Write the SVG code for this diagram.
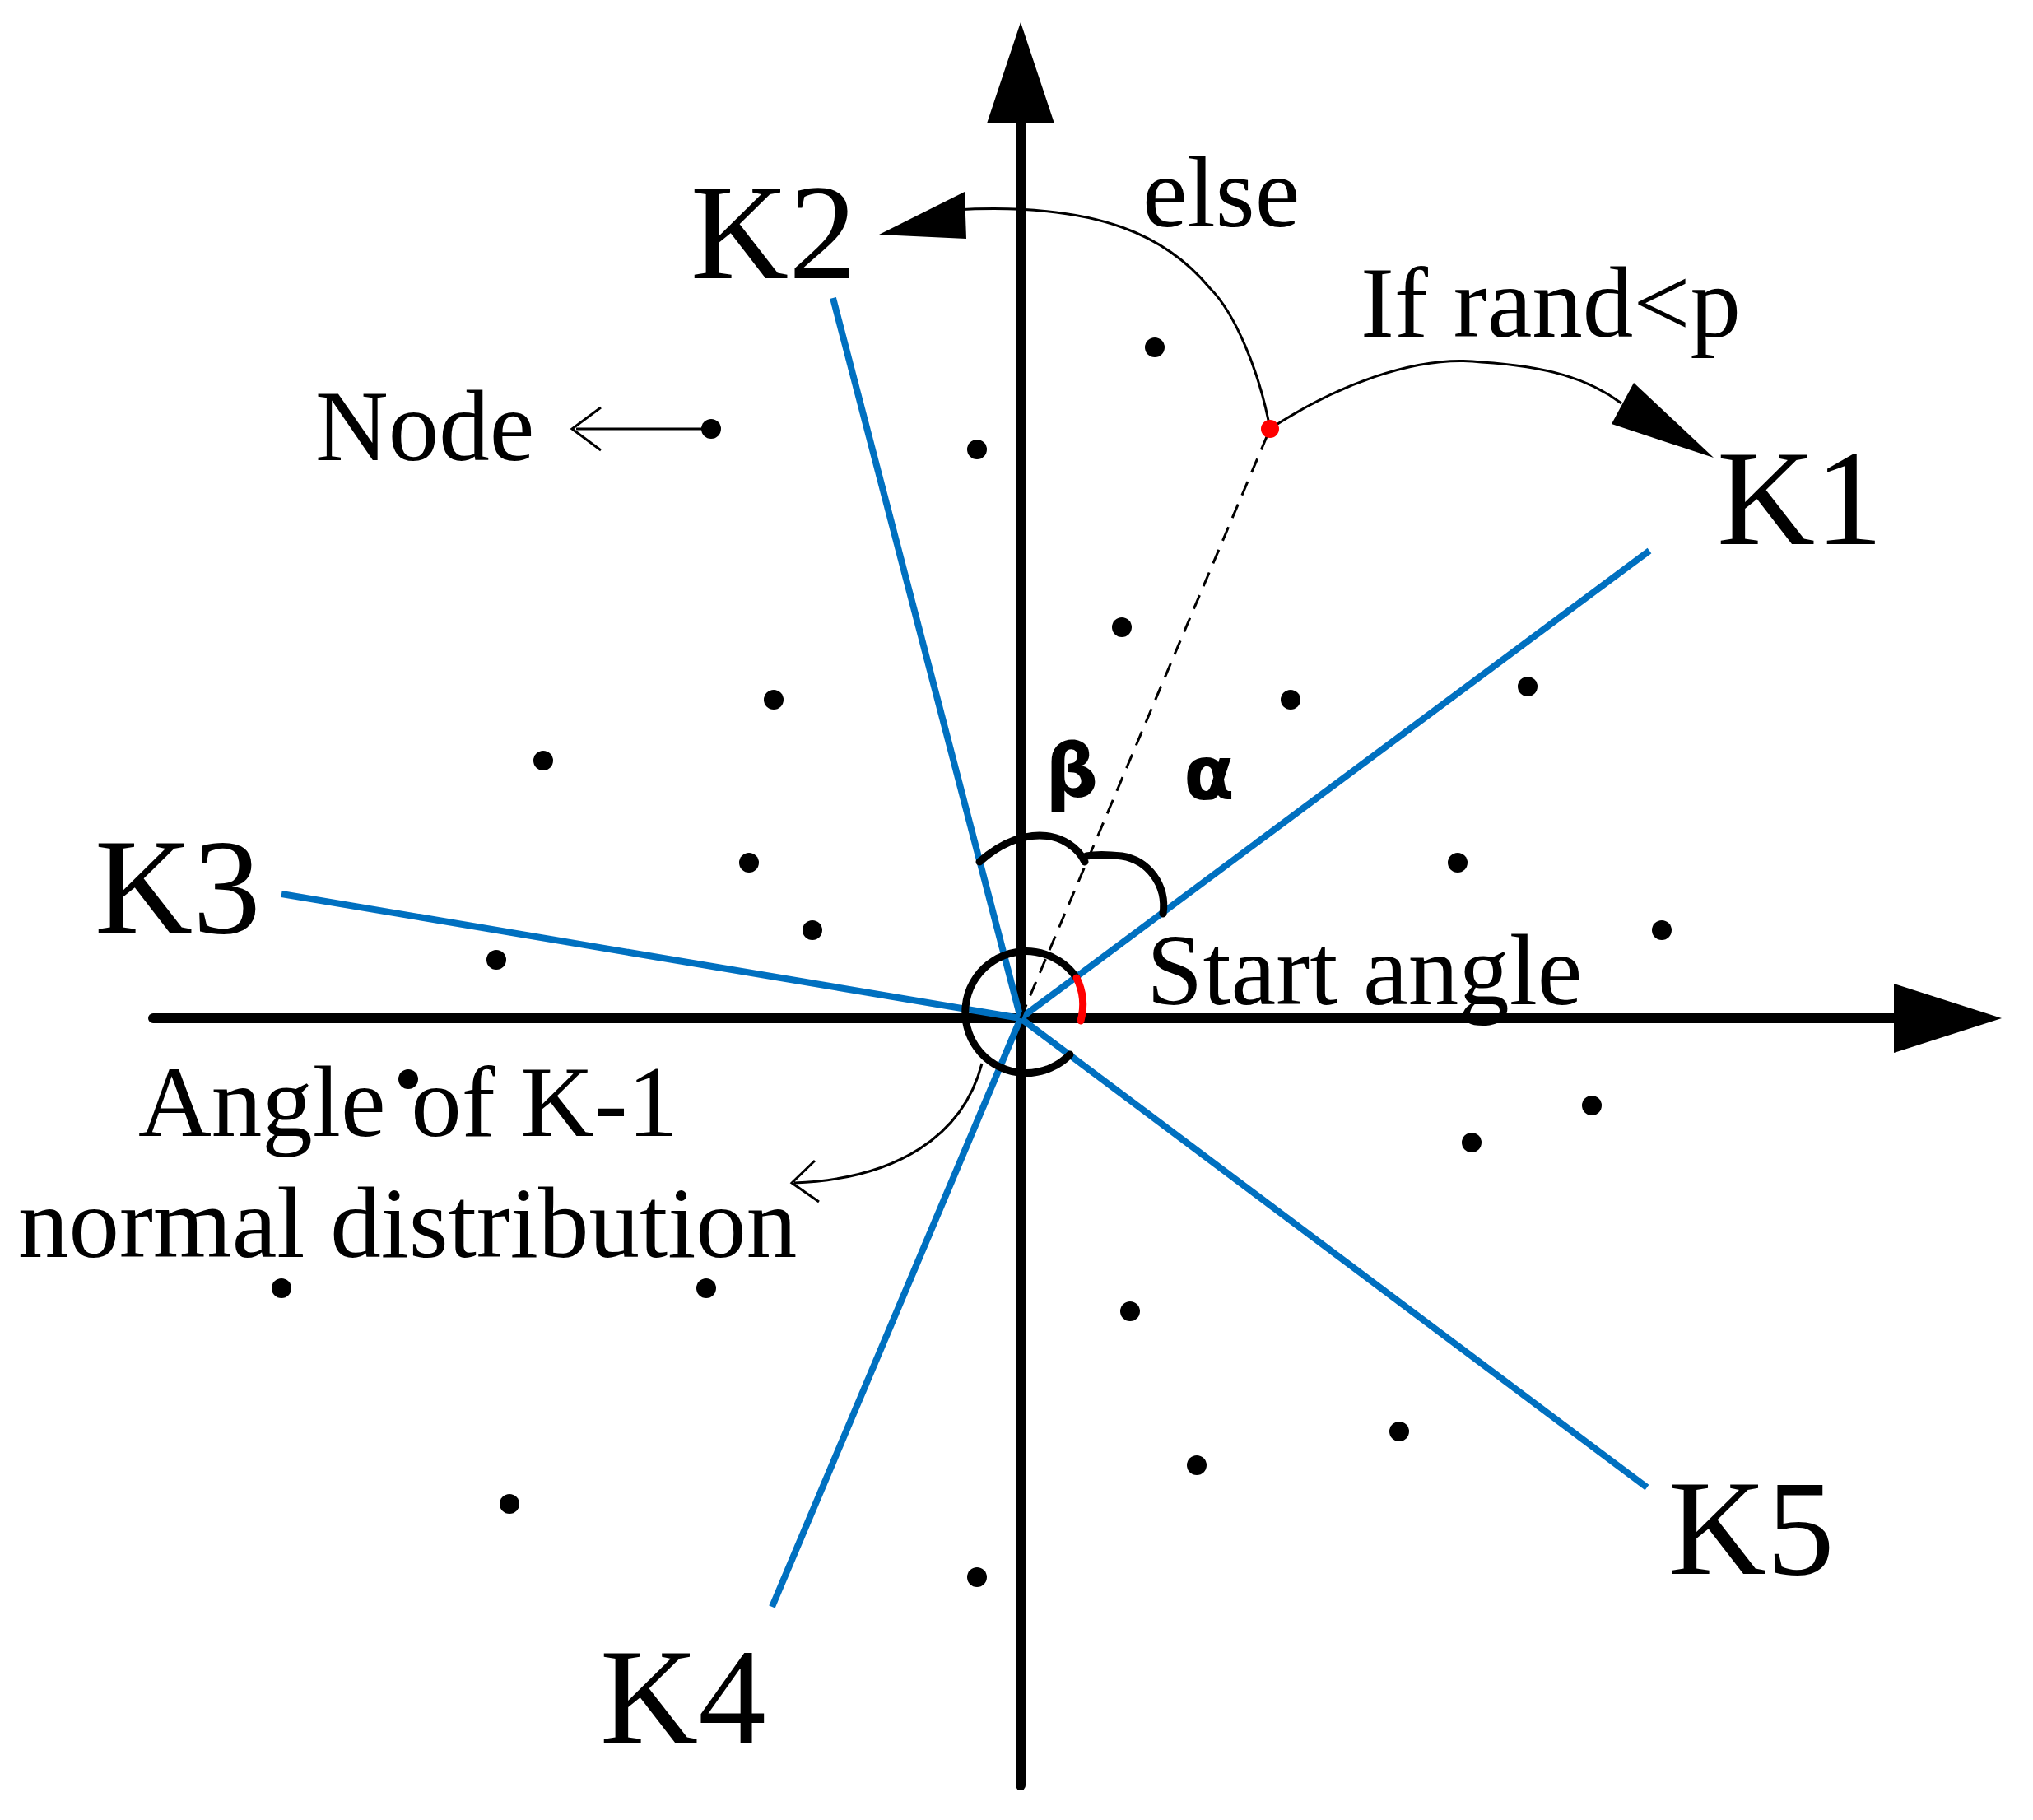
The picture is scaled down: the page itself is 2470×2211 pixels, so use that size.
<svg xmlns="http://www.w3.org/2000/svg" width="2470" height="2211" viewBox="0 0 2470 2211">
<style>
.ax{stroke:#000;stroke-width:12;fill:none;stroke-linecap:round}
.bl{stroke:#0070C0;stroke-width:8;fill:none}
.t{font-family:"Liberation Serif",serif;fill:#000}
.g{font-family:"DejaVu Sans","Liberation Sans",sans-serif;fill:#000;font-size:90px;font-weight:bold}
.d{fill:#000}
.thin{stroke:#000;stroke-width:3;fill:none}
.arc{stroke:#000;stroke-width:9;fill:none;stroke-linecap:round}
</style>
<rect width="2470" height="2211" fill="#fff"/>
<g id="axes">
<line class="ax" x1="186" y1="1237" x2="2310" y2="1237"/>
<polygon points="2301,1195 2432,1237 2301,1279" fill="#000"/>
<line class="ax" x1="1240" y1="2169" x2="1240" y2="140"/>
<polygon points="1199,150 1240,27 1281,150" fill="#000"/>
</g>
<g id="connectors">
<line class="bl" x1="1240" y1="1237" x2="2004" y2="669"/>
<line class="bl" x1="1240" y1="1237" x2="1012" y2="362"/>
<line class="bl" x1="1240" y1="1237" x2="342" y2="1086"/>
<line class="bl" x1="1240" y1="1237" x2="938" y2="1952"/>
<line class="bl" x1="1240" y1="1237" x2="2001" y2="1807"/>
<line x1="1240" y1="1237" x2="1543" y2="521" stroke="#000" stroke-width="3" stroke-dasharray="18,12"/>
<path class="thin" d="M1543 521 C1530 450 1500 380 1470 350 C1420 290 1340 245 1160 255"/>
<polygon points="1172,233 1068,285 1174,290" fill="#000"/>
<path class="thin" d="M1543 521 C1620 470 1720 430 1800 440 C1880 445 1930 460 1970 490"/>
<polygon points="1985,465 2082,556 1958,515" fill="#000"/>
<path class="thin" d="M864 521 L700 521 M730 495 L695 521 L730 547"/>
<path class="thin" d="M1193 1292 C1170 1380 1090 1432 965 1437 M990 1410 L962 1437 L995 1460"/>
<path class="arc" d="M1308 1188 A74 74 0 1 0 1300 1281"/>
<path d="M1308 1188 A74 74 0 0 1 1313 1240" stroke="#f00" stroke-width="9" fill="none" stroke-linecap="round"/>
<path class="arc" d="M1190 1047 C1215 1025 1240 1015 1263 1015 C1290 1015 1310 1030 1318 1047"/>
<path class="arc" d="M1320 1040 C1330 1038 1345 1038 1363 1040 C1395 1045 1418 1075 1413 1110"/>
</g>
<g id="nodes">
<circle class="d" cx="1403" cy="422" r="12"/><circle class="d" cx="1187" cy="546" r="12"/>
<circle class="d" cx="864" cy="521" r="12"/><circle class="d" cx="1363" cy="762" r="12"/>
<circle class="d" cx="1568" cy="850" r="12"/><circle class="d" cx="1856" cy="834" r="12"/>
<circle class="d" cx="940" cy="850" r="12"/><circle class="d" cx="660" cy="924" r="12"/>
<circle class="d" cx="910" cy="1048" r="12"/><circle class="d" cx="987" cy="1130" r="12"/>
<circle class="d" cx="1771" cy="1048" r="12"/><circle class="d" cx="2019" cy="1130" r="12"/>
<circle class="d" cx="603" cy="1166" r="12"/><circle class="d" cx="496" cy="1311" r="12"/>
<circle class="d" cx="1934" cy="1343" r="12"/><circle class="d" cx="1788" cy="1388" r="12"/>
<circle class="d" cx="342" cy="1565" r="12"/><circle class="d" cx="858" cy="1565" r="12"/>
<circle class="d" cx="1373" cy="1593" r="12"/><circle class="d" cx="1700" cy="1739" r="12"/>
<circle class="d" cx="1454" cy="1780" r="12"/><circle class="d" cx="619" cy="1827" r="12"/>
<circle class="d" cx="1187" cy="1916" r="12"/>
<circle cx="1543" cy="521" r="11" fill="#f00"/>
</g>
<g id="labels">
<text class="t" x="839" y="338" font-size="165">K2</text>
<text class="t" x="2086" y="661" font-size="165">K1</text>
<text class="t" x="115" y="1133" font-size="165">K3</text>
<text class="t" x="729" y="2117" font-size="165">K4</text>
<text class="t" x="2027" y="1912" font-size="165">K5</text>
<text class="t" x="1388" y="275" font-size="123">else</text>
<text class="t" x="1653" y="409" font-size="123">If rand&lt;p</text>
<text class="t" x="383" y="559" font-size="123">Node</text>
<text class="t" x="1393" y="1220" font-size="123">Start angle</text>
<text class="t" x="168" y="1380" font-size="123">Angle of K-1</text>
<text class="t" x="22" y="1527" font-size="123">normal distribution</text>
<text class="g" x="1270" y="968">β</text>
<text class="g" x="1438" y="971">α</text>
</g>
</svg>
